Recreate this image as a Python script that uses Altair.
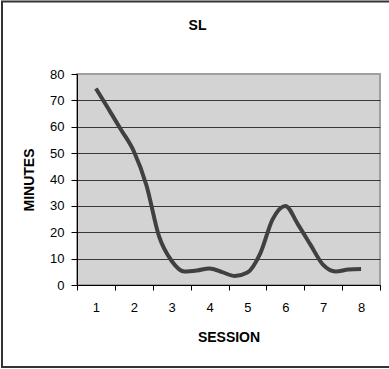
import altair as alt
import pandas as pd

sessions = [1, 1.333, 1.667, 2, 2.333, 2.667, 3, 3.333, 3.667, 4, 4.333, 4.667,
            5, 5.333, 5.667, 6, 6.333, 6.667, 7, 7.333, 7.667, 8]
minutes = [74.5, 66.7, 58.8, 50.7, 37.8, 18.4, 9.1, 5.1, 5.5, 6.3, 4.9, 3.4,
           4.7, 11.8, 25.0, 30.0, 23.0, 15.2, 7.6, 5.1, 5.9, 6.1]
x_ticks = [0.5, 1, 1.5, 2, 2.5, 3, 3.5, 4, 4.5, 5, 5.5, 6, 6.5, 7, 7.5, 8, 8.5]
y_ticks = [0, 10, 20, 30, 40, 50, 60, 70, 80]

df = pd.DataFrame({"session": sessions, "minutes": minutes})
FONT = "Liberation Sans"

line = alt.Chart(df).mark_line(
    interpolate="monotone", color="#404040", strokeWidth=4
).encode(
    x=alt.X("session:Q",
            scale=alt.Scale(domain=[0.5, 8.5], nice=False, zero=False),
            axis=alt.Axis(
                title="SESSION", values=x_ticks, grid=False,
                labelExpr="datum.value % 1 == 0 ? format(datum.value, 'd') : ''",
                labelOverlap=False, labelFlush=False,
                tickOpacity={"condition": {"test": "datum.value % 1 != 0", "value": 1}, "value": 0},
                tickSize=5, tickColor="black", domainColor="black",
                labelPadding=11, labelFontSize=13, labelColor="black", labelFont=FONT,
                titleFont=FONT, titleFontSize=14, titleFontWeight="bold", titleColor="black",
                titleY=56, titleBaseline="alphabetic",
            )),
    y=alt.Y("minutes:Q",
            scale=alt.Scale(domain=[0, 80], nice=False),
            axis=alt.Axis(
                title="MINUTES", values=y_ticks, grid=True,
                gridColor={"condition": {"test": "datum.value == 80", "value": "#a0a0a0"}, "value": "#383838"},
                gridWidth=1,
                tickSize=6, tickColor="black", domainColor="black",
                labelPadding=7, labelFontSize=13, labelColor="black", labelFont=FONT,
                titleFont=FONT, titleFontSize=14, titleFontWeight="bold", titleColor="black",
                titleX=-44, titleY=105.5, titleBaseline="alphabetic",
            )),
)

frame = alt.Chart(pd.DataFrame({"a": [0]})).mark_rect(
    fill="transparent", stroke="#333333", strokeWidth=2
).encode(
    x=alt.value(-75), x2=alt.value(320), y=alt.value(-72.5), y2=alt.value(293)
)

chart = alt.layer(line, frame).properties(
    width=303, height=211,
    title=alt.TitleParams("SL", font=FONT, fontSize=14, fontWeight="bold", color="black",
                          anchor="middle", dx=-31, dy=43.5, offset=0, baseline="alphabetic"),
    autosize=alt.AutoSizeParams(type="none"),
    padding={"left": 77, "top": 74, "right": 9, "bottom": 84},
    background="white",
).configure_view(
    fill="#d3d3d3", stroke="#a0a0a0", strokeWidth=2
)

chart.save("out.html", embed_options={"renderer": "svg", "actions": False})
